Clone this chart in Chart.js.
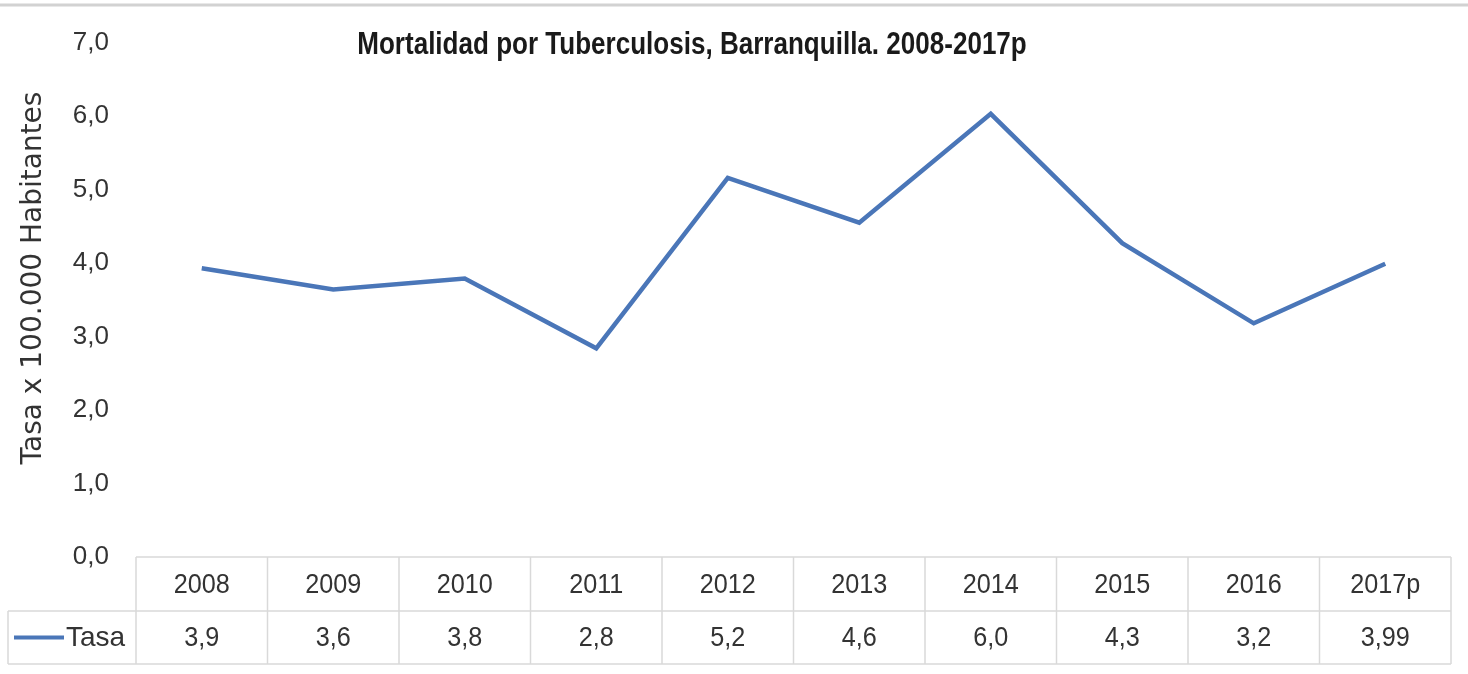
<!DOCTYPE html>
<html>
<head>
<meta charset="utf-8">
<script src="https://cdn.jsdelivr.net/npm/chart.js@4/dist/chart.umd.min.js"></script>
<style>
  body { margin: 0; background: #fff; }
  canvas { display: block; }
</style>
</head>
<body>
<canvas id="chart" width="1468" height="674"></canvas>
<script>
var years = ['2008', '2009', '2010', '2011', '2012', '2013', '2014', '2015', '2016', '2017p'];
var tasa = [3.93, 3.64, 3.79, 2.84, 5.16, 4.55, 6.03, 4.27, 3.18, 3.99];
var tasaText = ['3,9', '3,6', '3,8', '2,8', '5,2', '4,6', '6,0', '4,3', '3,2', '3,99'];
var yTicks = [0, 1, 2, 3, 4, 5, 6, 7];

var titleText = 'Mortalidad por Tuberculosis, Barranquilla. 2008-2017p';
var yTitleText = 'Tasa x 100.000 Habitantes';
var seriesName = 'Tasa';

var lineColor = '#4a76b8';
var gridColor = '#d9d9d9';
var textColor = '#333333';
var sans = '"Liberation Sans", Arial, sans-serif';

// narrow text, like Calibri, by squeezing it horizontally
function narrowText(c, text, x, y, sx) {
    c.save();
    c.translate(x, y);
    c.scale(sx, 1);
    c.fillText(text, 0, 0);
    c.restore();
}

// title, y title and the data table under the plot
var tablePlugin = {
    id: 'excelTable',
    beforeDraw: function(chart) {
        var c = chart.ctx;
        c.save();
        c.strokeStyle = '#d2d2d2';
        c.lineWidth = 3;
        c.beginPath();
        c.moveTo(0, 5);
        c.lineTo(chart.width, 5);
        c.stroke();
        c.restore();
    },
    afterDraw: function(chart) {
        var c = chart.ctx;
        var area = chart.chartArea;
        var xs = chart.scales.x;
        var cellW = (area.right - area.left) / years.length;
        var top = area.bottom;
        var mid = top + 54;
        var bot = top + 107;
        var legendLeft = 8;

        c.save();
        c.strokeStyle = gridColor;
        c.lineWidth = 1.5;
        c.beginPath();
        c.moveTo(area.left, top); c.lineTo(area.right, top);
        c.moveTo(legendLeft, mid); c.lineTo(area.right, mid);
        c.moveTo(legendLeft, bot); c.lineTo(area.right, bot);
        for (var k = 0; k <= years.length; k++) {
            var x = area.left + k * cellW;
            c.moveTo(x, top); c.lineTo(x, bot);
        }
        c.moveTo(legendLeft, mid); c.lineTo(legendLeft, bot);
        c.stroke();

        c.fillStyle = textColor;
        c.font = '28px ' + sans;
        c.textAlign = 'center';
        c.textBaseline = 'middle';
        for (var i = 0; i < years.length; i++) {
            var cx = xs.getPixelForValue(i);
            narrowText(c, years[i], cx, (top + mid) / 2 + 1, 0.9);
            narrowText(c, tasaText[i], cx, (mid + bot) / 2 + 1, 0.9);
        }

        // legend key
        c.strokeStyle = lineColor;
        c.lineWidth = 4;
        c.beginPath();
        c.moveTo(14, (mid + bot) / 2);
        c.lineTo(64, (mid + bot) / 2);
        c.stroke();
        c.textAlign = 'left';
        narrowText(c, seriesName, 66, (mid + bot) / 2 + 1, 1.0);

        // chart title
        c.fillStyle = '#1a1a1a';
        c.font = 'bold 31px ' + sans;
        c.textAlign = 'center';
        narrowText(c, titleText, 692, 45, 0.84);

        // y axis title
        c.fillStyle = textColor;
        c.font = '28px "DejaVu Sans", sans-serif';
        c.translate(34, 278);
        c.rotate(-Math.PI / 2);
        c.fillText(yTitleText, 0, 0);
        c.restore();
    }
};

var ctx = document.getElementById('chart').getContext('2d');
var chart = new Chart(ctx, {
    type: 'line',
    data: {
        labels: years,
        datasets: [{
            label: seriesName,
            data: tasa,
            borderColor: lineColor,
            backgroundColor: lineColor,
            borderWidth: 4.5,
            pointRadius: 0,
            tension: 0
        }]
    },
    options: {
        responsive: false,
        animation: false,
        layout: { padding: { top: 42, bottom: 117, right: 17, left: 0 } },
        plugins: {
            legend: { display: false },
            tooltip: { enabled: false }
        },
        scales: {
            x: {
                display: false,
                offset: true
            },
            y: {
                min: 0,
                max: 7,
                afterBuildTicks: function(scale) {
                    scale.ticks = yTicks.map(function(v) { return { value: v }; });
                },
                afterFit: function(scale) { scale.width = 136; },
                grid: { display: false, drawTicks: false },
                border: { display: false },
                ticks: {
                    padding: 27,
                    color: textColor,
                    font: { family: sans, size: 26 },
                    callback: function(v) { return v.toFixed(1).replace('.', ','); }
                }
            }
        }
    },
    plugins: [tablePlugin]
});
</script>
</body>
</html>
